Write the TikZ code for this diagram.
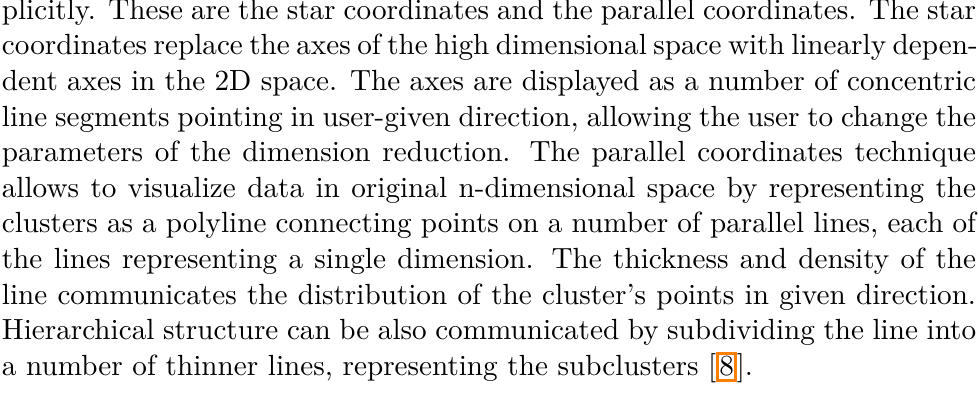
\documentclass[tikz,border=0pt]{standalone}
\usepackage{xcolor}
\definecolor{citeorange}{rgb}{1,0.5,0}
\newlength{\LW}
\setlength{\LW}{333.9pt}
\newcommand{\citebox}[1]{{\setlength{\fboxsep}{0.1pt}\setlength{\fboxrule}{0.9pt}\fcolorbox{citeorange}{white}{\rule{0pt}{6.8pt}\rule[-1.2pt]{0pt}{1.2pt}#1}}}
\begin{document}
\begin{tikzpicture}
\useasboundingbox (0,0) rectangle (335.2pt,-135.7pt);
\node[anchor=base west, inner sep=0pt] (para) at (0.45pt,-6.6pt) {\parbox[t]{\LW}{\fontsize{10pt}{12.2pt}\selectfont
\hbox to \LW{plicitly. These are the star coordinates and the parallel coordinates. The star}
\hbox to \LW{coordinates replace the axes of the high dimensional space with linearly depen-}
\hbox to \LW{dent axes in the 2D space. The axes are displayed as a number of concentric}
\hbox to \LW{line segments pointing in user-given direction, allowing the user to change the}
\hbox to \LW{parameters of the dimension reduction. The parallel coordinates technique}
\hbox to \LW{allows to visualize data in original n-dimensional space by representing the}
\hbox to \LW{clusters as a polyline connecting points on a number of parallel lines, each of}
\hbox to \LW{the lines representing a single dimension. The thickness and density of the}
\hbox to \LW{line communicates the distribution of the cluster’s points in given direction.}
\hbox to \LW{Hierarchical structure can be also communicated by subdividing the line into}
\hbox{a number of thinner lines, representing the subclusters [\citebox{8}].}
}};
\end{tikzpicture}
\end{document}
